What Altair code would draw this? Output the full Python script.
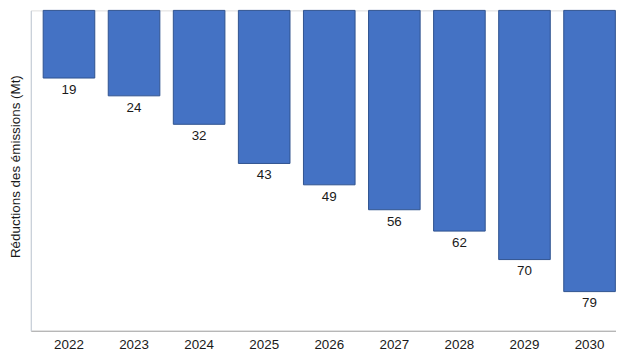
import altair as alt
import pandas as pd

years = ["2022", "2023", "2024", "2025", "2026", "2027", "2028", "2029", "2030"]
reductions = [19, 24, 32, 43, 49, 56, 62, 70, 79]

df = pd.DataFrame({"year": years, "value": reductions})

W, H = 590, 323

x = alt.X("year:N", sort=years, title=None,
          scale=alt.Scale(paddingInner=0.207, paddingOuter=0.1, align=0.95),
          axis=alt.Axis(labelAngle=0, ticks=False, domainColor="#a6a6a6",
                        labelFont="Liberation Sans", labelFontSize=13.5,
                        labelColor="#1a1a1a", labelPadding=7, grid=False))

y = alt.Y("value:Q", scale=alt.Scale(domain=[0, 89], reverse=True),
          axis=alt.Axis(labels=False, ticks=False, grid=False,
                        domainColor="#c3ccd8",
                        title="Réductions des émissions (Mt)",
                        titleFont="Liberation Sans", titleFontSize=13.5,
                        titleFontWeight="normal", titleColor="#1a1a1a",
                        titleX=-15, titleY=157, titleAngle=-90,
                        titleAlign="center", titleBaseline="middle"))

bars = alt.Chart(df).mark_bar(color="#4472C4", stroke="#2F528F",
                              strokeWidth=1).encode(x=x, y=y)

labels = alt.Chart(df).mark_text(baseline="top", dy=5,
                                 font="Liberation Sans", fontSize=13.5,
                                 color="#1a1a1a").encode(
    x=alt.X("year:N", sort=years),
    y=alt.Y("value:Q"),
    text=alt.Text("value:Q"))

chart = (bars + labels).properties(width=W, height=H).configure_view(
    stroke=None).configure(padding={"left": 1, "top": 0, "right": 0, "bottom": 0})

chart.save("out.html", embed_options={"renderer": "svg", "actions": False})
